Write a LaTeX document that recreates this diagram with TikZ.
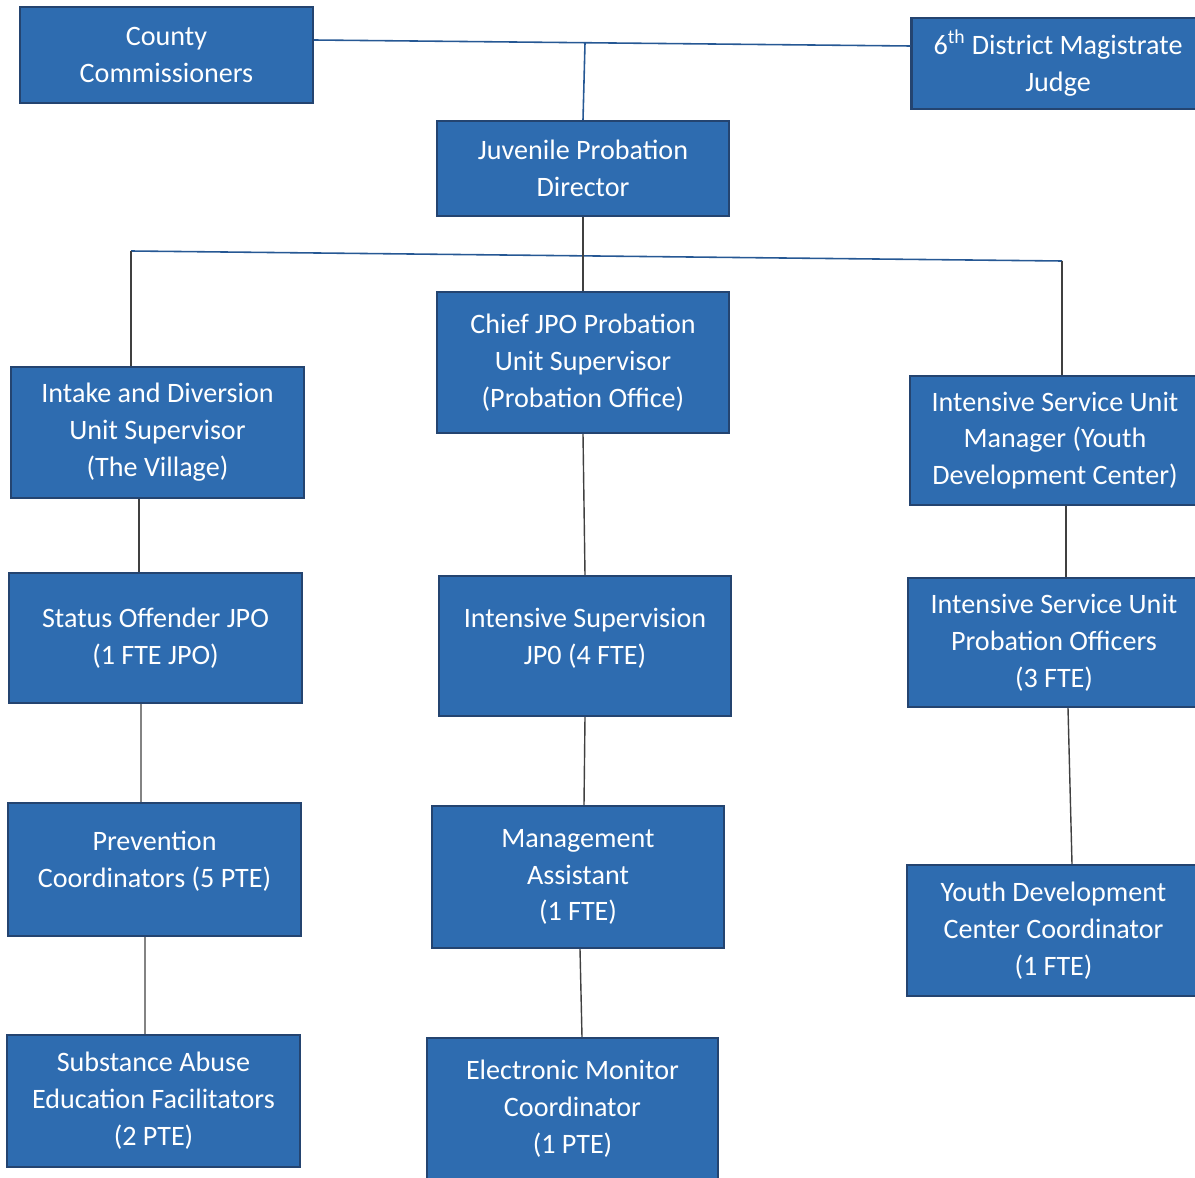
\documentclass[tikz,border=0pt]{standalone}
\usepackage{fontspec}
\setmainfont{Carlito}
\usepackage{tikz}

\definecolor{boxblue}{RGB}{46,108,176}
\definecolor{boxedge}{RGB}{36,68,112}
\definecolor{busblue}{RGB}{38,88,148}

\begin{document}
\begin{tikzpicture}[
    every node/.style={font=\fontsize{16}{21}\selectfont},
    unit/.style={draw=boxedge, fill=boxblue, line width=1.2pt, text=white, align=center, inner sep=2pt, minimum width=5.86cm},
    busline/.style={busblue, line width=0.9pt},
    link/.style={black!75, line width=0.8pt},
]
\useasboundingbox (0,0) rectangle (23.9,-23.56);

% ================================================================
% TOP: commissioners, magistrate, director
% ================================================================
\node[unit, minimum height=1.92cm] (cc) at (3.33, -1.10) {County\\Commissioners};
\node[unit, minimum height=1.82cm] (judge) at (21.16, -1.27) {6\textsuperscript{th} District Magistrate\\Judge};
\node[unit, minimum width=5.84cm, minimum height=1.90cm] (dir) at (11.66, -3.37) {Juvenile Probation\\Director};

\coordinate (top) at (11.70, -0.86);
\draw[busline] ([yshift=0.30cm]cc.east) -- ([yshift=0.35cm]judge.west);
\draw[busline] (top) -- (dir.north);

% ================================================================
% SECOND ROW: three unit heads
% ================================================================
\node[unit, minimum width=5.84cm, minimum height=2.82cm] (chief) at (11.66, -7.25) {Chief JPO Probation\\Unit Supervisor\\(Probation Office)};
\node[unit, minimum height=2.62cm] (intake) at (3.15, -8.65) {Intake and Diversion\\Unit Supervisor\\(The Village)};
\node[unit, minimum width=5.80cm, minimum height=2.58cm] (isum) at (21.10, -8.81) {Intensive Service Unit\\Manager (Youth\\Development Center)};

\coordinate (busL) at (2.62, -5.02);
\coordinate (busR) at (21.24, -5.22);
\draw[busline] (busL) -- (busR);
\draw[link] (dir.south) -- (chief.north);
\draw[link] (busL) -- (intake.north -| busL);
\draw[link] (busR) -- (isum.north -| busR);

% ================================================================
% LEFT COLUMN: intake and diversion
% ================================================================
\node[unit, minimum height=2.60cm] (status) at (3.11, -12.76) {Status Offender JPO\\(1 FTE JPO)};
\node[unit, minimum height=2.66cm] (prev) at (3.09, -17.39) {Prevention\\Coordinators (5 PTE)\\[-0.34cm]};
\node[unit, minimum height=2.64cm] (sub) at (3.07, -22.02) {Substance Abuse\\Education Facilitators\\(2 PTE)};
\draw[link] ([xshift=-0.37cm]intake.south) -- ([xshift=-0.33cm]status.north);
\draw[link] ([xshift=-0.29cm]status.south) -- ([xshift=-0.27cm]prev.north);
\draw[link] ([xshift=-0.19cm]prev.south) -- ([xshift=-0.17cm]sub.north);

% ================================================================
% MIDDLE COLUMN: probation office
% ================================================================
\node[unit, minimum width=5.84cm, minimum height=2.80cm] (isjpo) at (11.70, -12.92) {Intensive Supervision\\JP0 (4 FTE)\\[-0.34cm]};
\node[unit, minimum width=5.84cm, minimum height=2.84cm] (mgmt) at (11.56, -17.54) {Management\\Assistant\\(1 FTE)};
\node[unit, minimum width=5.82cm, minimum height=2.84cm] (emc) at (11.45, -22.18) {Electronic Monitor\\Coordinator\\(1 PTE)};
\draw[link] (chief.south) -- (isjpo.north);
\draw[link] (isjpo.south) -- ([xshift=0.12cm]mgmt.north);
\draw[link] ([xshift=0.04cm]mgmt.south) -- ([xshift=0.19cm]emc.north);

% ================================================================
% RIGHT COLUMN: youth development center
% ================================================================
\node[unit, minimum width=5.84cm, minimum height=2.58cm] (isupo) at (21.08, -12.85) {Intensive Service Unit\\Probation Officers\\(3 FTE)};
\node[unit, minimum height=2.62cm] (ydc) at (21.07, -18.61) {Youth Development\\Center Coordinator\\(1 FTE)};
\draw[link] ([xshift=0.22cm]isum.south) -- ([xshift=0.24cm]isupo.north);
\draw[link] ([xshift=0.28cm]isupo.south) -- ([xshift=0.37cm]ydc.north);

\end{tikzpicture}
\end{document}
